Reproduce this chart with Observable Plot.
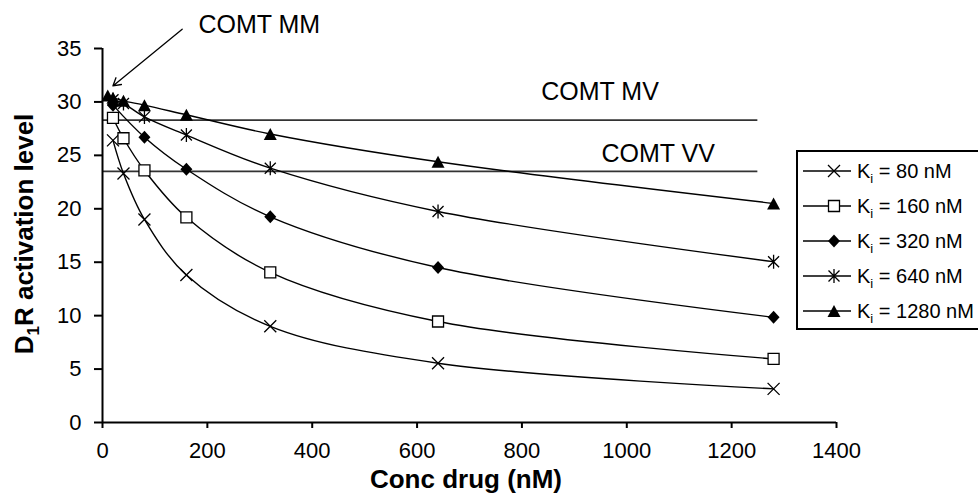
<!DOCTYPE html>
<html>
<head>
<meta charset="utf-8">
<script src="https://cdn.jsdelivr.net/npm/d3@7"></script>
<script src="https://cdn.jsdelivr.net/npm/@observablehq/plot@0.6"></script>
<style>
  html, body { margin: 0; padding: 0; background: #fff; }
  #chart { width: 978px; height: 494px; overflow: hidden; }
</style>
</head>
<body>
<div id="chart"></div>
<script>
// ---- data ----
const conc80   = [20, 40, 80, 160, 320, 640, 1280];
const act80    = [26.4, 23.3, 19.0, 13.8, 9.0, 5.55, 3.15];
const conc160  = [20, 40, 80, 160, 320, 640, 1280];
const act160   = [28.5, 26.6, 23.6, 19.2, 14.05, 9.45, 5.95];
const conc320  = [20, 80, 160, 320, 640, 1280];
const act320   = [29.7, 26.7, 23.7, 19.25, 14.5, 9.85];
const conc640  = [20, 40, 80, 160, 320, 640, 1280];
const act640   = [30.2, 29.85, 28.6, 26.9, 23.8, 19.75, 15.05];
const conc1280 = [10, 20, 40, 80, 160, 320, 640, 1280];
const act1280  = [30.6, 30.4, 30.1, 29.7, 28.8, 27.0, 24.4, 20.5];

const seriesNames = ["80", "160", "320", "640", "1280"];

const refLevels = [28.3, 23.5];          // COMT MV, COMT VV
const refLevelEnd = 1250;
const refLabels = ["COMT MV", "COMT VV"];
const refLabelX = [949, 1060];
const refLabelY = [30.9, 25.1];

const mmLabel = "COMT MM";
const mmLabelX = 299, mmLabelY = 37.2;
const mmArrow = {x1: 152, y1: 36.8, x2: 19.8, y2: 31.5};

const xTicks = [0, 200, 400, 600, 800, 1000, 1200, 1400];
const yTicks = [0, 5, 10, 15, 20, 25, 30, 35];

// ---- build table ----
const concs = [conc80, conc160, conc320, conc640, conc1280];
const acts  = [act80, act160, act320, act640, act1280];
const rows = [];
seriesNames.forEach((k, i) => concs[i].forEach((c, j) => rows.push({ki: k, conc: c, act: acts[i][j]})));

// ---- custom marker shapes ----
const symTimes = {draw(c) { const a = 6; c.moveTo(-a,-a); c.lineTo(a,a); c.moveTo(-a,a); c.lineTo(a,-a); }};
const symSquare = {draw(c) { const a = 5.5; c.moveTo(-a,-a); c.lineTo(a,-a); c.lineTo(a,a); c.lineTo(-a,a); c.closePath(); }};
const symDiamond = {draw(c) { const w = 6, h = 6.5; c.moveTo(0,-h); c.lineTo(w,0); c.lineTo(0,h); c.lineTo(-w,0); c.closePath(); }};
const symAster = {draw(c) { const a = 5.5, v = 7; c.moveTo(-a,-a); c.lineTo(a,a); c.moveTo(-a,a); c.lineTo(a,-a); c.moveTo(0,-v); c.lineTo(0,v); }};
const symTri = {draw(c) { const w = 6.5, h = 6; c.moveTo(0,-h); c.lineTo(w,h); c.lineTo(-w,h); c.closePath(); }};
const symbols = [symTimes, symSquare, symDiamond, symAster, symTri];
const symFill = ["none", "white", "black", "none", "black"];
const symStroke = ["black", "black", "none", "black", "none"];

const dotMarks = seriesNames.map((k, i) => Plot.dot(rows.filter(d => d.ki === k), {
  x: "conc", y: "act", symbol: symbols[i], r: 5,
  fill: symFill[i], stroke: symStroke[i], strokeWidth: 1.3
}));

const fontFam = "'Liberation Sans', Arial, sans-serif";

const plot = Plot.plot({
  width: 978, height: 494,
  marginLeft: 102, marginRight: 142, marginTop: 48, marginBottom: 72,
  x: {domain: [0, 1400]},
  y: {domain: [0, 35]},
  style: {fontFamily: fontFam, fontSize: "22px", color: "black", background: "white", overflow: "visible"},
  marks: [
    Plot.ruleY(refLevels, {x1: 0, x2: refLevelEnd, stroke: "#333", strokeWidth: 1.6}),
    Plot.line(rows, {x: "conc", y: "act", z: "ki", curve: "catmull-rom", stroke: "black", strokeWidth: 1.4}),
    ...dotMarks,
    Plot.text(refLabels, {x: (d, i) => refLabelX[i], y: (d, i) => refLabelY[i], text: d => d, fontSize: 25, fill: "black"}),
    Plot.text([mmLabel], {x: mmLabelX, y: mmLabelY, text: d => d, fontSize: 25, fill: "black"}),
    Plot.arrow([mmArrow], {x1: "x1", y1: "y1", x2: "x2", y2: "y2", stroke: "black", strokeWidth: 1.3, headLength: 10, bend: 0}),
    Plot.ruleX([0], {stroke: "black", strokeWidth: 2}),
    Plot.ruleY([0], {stroke: "black", strokeWidth: 2}),
    Plot.axisX({ticks: xTicks, tickSize: 6, tickPadding: 14, label: null, strokeWidth: 2, tickFormat: d => String(d)}),
    Plot.axisY({ticks: yTicks, tickSize: 8, tickPadding: 13, label: null, strokeWidth: 2, tickFormat: d => String(d)})
  ]
});
document.getElementById("chart").appendChild(plot);

const svg = d3.select(plot);

// axis titles
svg.append("text")
  .attr("x", 466).attr("y", 488)
  .attr("text-anchor", "middle")
  .style("font", `bold 26px ${fontFam}`)
  .text("Conc drug (nM)");

const yt = svg.append("text")
  .attr("transform", "translate(33,234) rotate(-90)")
  .attr("text-anchor", "middle")
  .style("font", `bold 26px ${fontFam}`);
yt.append("tspan").text("D");
yt.append("tspan").attr("font-size", "17px").attr("dy", "6").text("1");
yt.append("tspan").attr("dy", "-6").text("R activation level");

// legend
const lg = svg.append("g").attr("text-anchor", "start");
lg.append("rect").attr("x", 797).attr("y", 151).attr("width", 220).attr("height", 178)
  .attr("fill", "white").attr("stroke", "black").attr("stroke-width", 2);
seriesNames.forEach((k, i) => {
  const y = 171 + i * 35;
  lg.append("line").attr("x1", 803).attr("x2", 851).attr("y1", y).attr("y2", y)
    .attr("stroke", "black").attr("stroke-width", 1.4);
  lg.append("path").attr("d", d3.symbol(symbols[i])()).attr("transform", `translate(834,${y})`)
    .attr("fill", symFill[i]).attr("stroke", symStroke[i]).attr("stroke-width", 1.3);
  const t = lg.append("text").attr("x", 857).attr("y", y + 7)
    .attr("text-anchor", "start")
    .style("font", `20px ${fontFam}`).attr("fill", "black");
  t.append("tspan").text("K");
  t.append("tspan").attr("font-size", "13px").attr("dy", "5").text("i");
  t.append("tspan").attr("dy", "-5").text(` = ${k} nM`);
});
</script>
</body>
</html>
